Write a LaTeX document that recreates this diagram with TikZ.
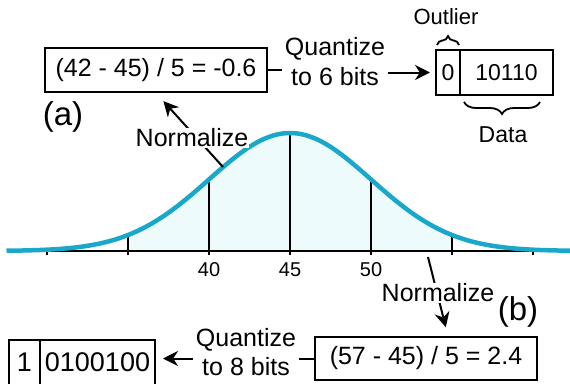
\documentclass[tikz,border=0pt]{standalone}
\usepackage{fontspec}
\setmainfont{Liberation Sans}
\usetikzlibrary{arrows.meta,positioning,decorations.pathreplacing}
\definecolor{bellblue}{RGB}{26,168,202}
\definecolor{bellfill}{RGB}{238,251,253}

\begin{document}
\begin{tikzpicture}[x=1bp,y=1bp,
  every node/.style={font=\fontsize{25bp}{30bp}\selectfont},
  cell/.style={draw,line width=2bp,minimum height=45bp,inner sep=0pt,outer sep=0pt,
    font=\fontsize{23bp}{27bp}\selectfont},
  bigcell/.style={cell,font=\fontsize{27bp}{30bp}\selectfont},
  eqbox/.style={draw,line width=2bp,minimum height=44bp,inner sep=0pt},
  arr/.style={line width=2bp,-{Stealth[length=15bp,width=15bp]}},
  brc/.style={line width=1.8bp,decorate,decoration={brace,amplitude=#1}},
  tick/.style={line width=2bp},
  tag/.style={font=\fontsize{33bp}{36bp}\selectfont}]
  \useasboundingbox (0,0) rectangle (570,383);

  % Bell curve (mean 45, sd 5)
  \fill[bellfill] plot[domain=-2:2,samples=60] ({290+81*\x},{132+118*exp(-0.5*(\x)^2)})
    -- (452,132) -- (128,132) -- cycle;
  \foreach \z in {-2,-1,0,1,2}
    \draw[tick] ({290+81*\z},128) -- ({290+81*\z},{132+118*exp(-0.5*(\z)^2)});
  \foreach \z in {-3,3}
    \draw[tick] ({290+81*\z},128) -- ({290+81*\z},132);
  \draw[line width=2bp] (7,132) -- (570,132);
  \draw[bellblue,line width=4.5bp] plot[domain=-3.5:3.5,samples=120]
    ({290+81*\x},{132+118*exp(-0.5*(\x)^2)});
  \foreach \v/\z in {40/-1,45/0,50/1}
    \node[font=\fontsize{20bp}{24bp}\selectfont] (lab\v) at ({290+81*\z},113) {\v};

  % (a): value 42
  \node[eqbox,minimum width=221bp] (boxa) at (156,313) {(42 - 45) / 5 = -0.6};
  \node[tag] (taga) at (63,266) {(a)};
  \node[align=center,inner sep=3bp] (quanta) at (335,321) {Quantize\\to 6 bits};
  \node[cell,minimum width=24bp] (outa) at (448,310.5) {0};
  \node[cell,minimum width=93bp,right=0pt of outa] (dataa) {10110};
  \draw[brc=9bp] ([xshift=1bp,yshift=5bp]outa.north west) -- ([xshift=-1bp,yshift=5bp]outa.north east);
  \node[font=\fontsize{22bp}{26bp}\selectfont] (outl) at (446,366) {Outlier};
  \draw[brc=12bp] ([xshift=-13bp,yshift=-7bp]dataa.south east) -- ([xshift=4bp,yshift=-7bp]dataa.south west);
  \node[font=\fontsize{23bp}{27bp}\selectfont] (dtext) at (503,248) {Data};
  \draw[line width=2bp] (boxa.east) -- (boxa.east -| quanta.west);
  \draw[arr,shorten >=6bp] (quanta.east |- outa.west) -- (outa.west);
  \coordinate (srca) at (223,216);
  \draw[arr,shorten >=11bp] (srca) -- (boxa.south);
  \node[fill=white,inner sep=1bp] (norma) at (192,245) {Normalize};

  % (b): value 57
  \node[eqbox,minimum width=222bp,minimum height=43bp] (boxb) at (426,24.5) {(57 - 45) / 5 = 2.4};
  \node[tag] (tagb) at (518,71) {(b)};
  \node[align=center,inner xsep=3bp,inner ysep=0pt,font=\fontsize{25bp}{29bp}\selectfont] (quantb) at (246,31) {Quantize\\to 8 bits};
  \node[bigcell,minimum width=31bp] (outb) at (24.5,21) {1};
  \node[bigcell,minimum width=115bp,right=0pt of outb] (datab) {0100100};
  \draw[line width=2bp] (boxb.west) -- (boxb.west -| quantb.east);
  \draw[arr,shorten >=8bp] (quantb.west |- boxb.west) -- (datab.east |- boxb.west);
  \coordinate (srcb) at (428,126);
  \draw[arr,shorten >=9bp] (srcb) -- ([xshift=22bp]boxb.north);
  \node[fill=white,inner sep=1bp] (normb) at (438,90) {Normalize};
\end{tikzpicture}
\end{document}
